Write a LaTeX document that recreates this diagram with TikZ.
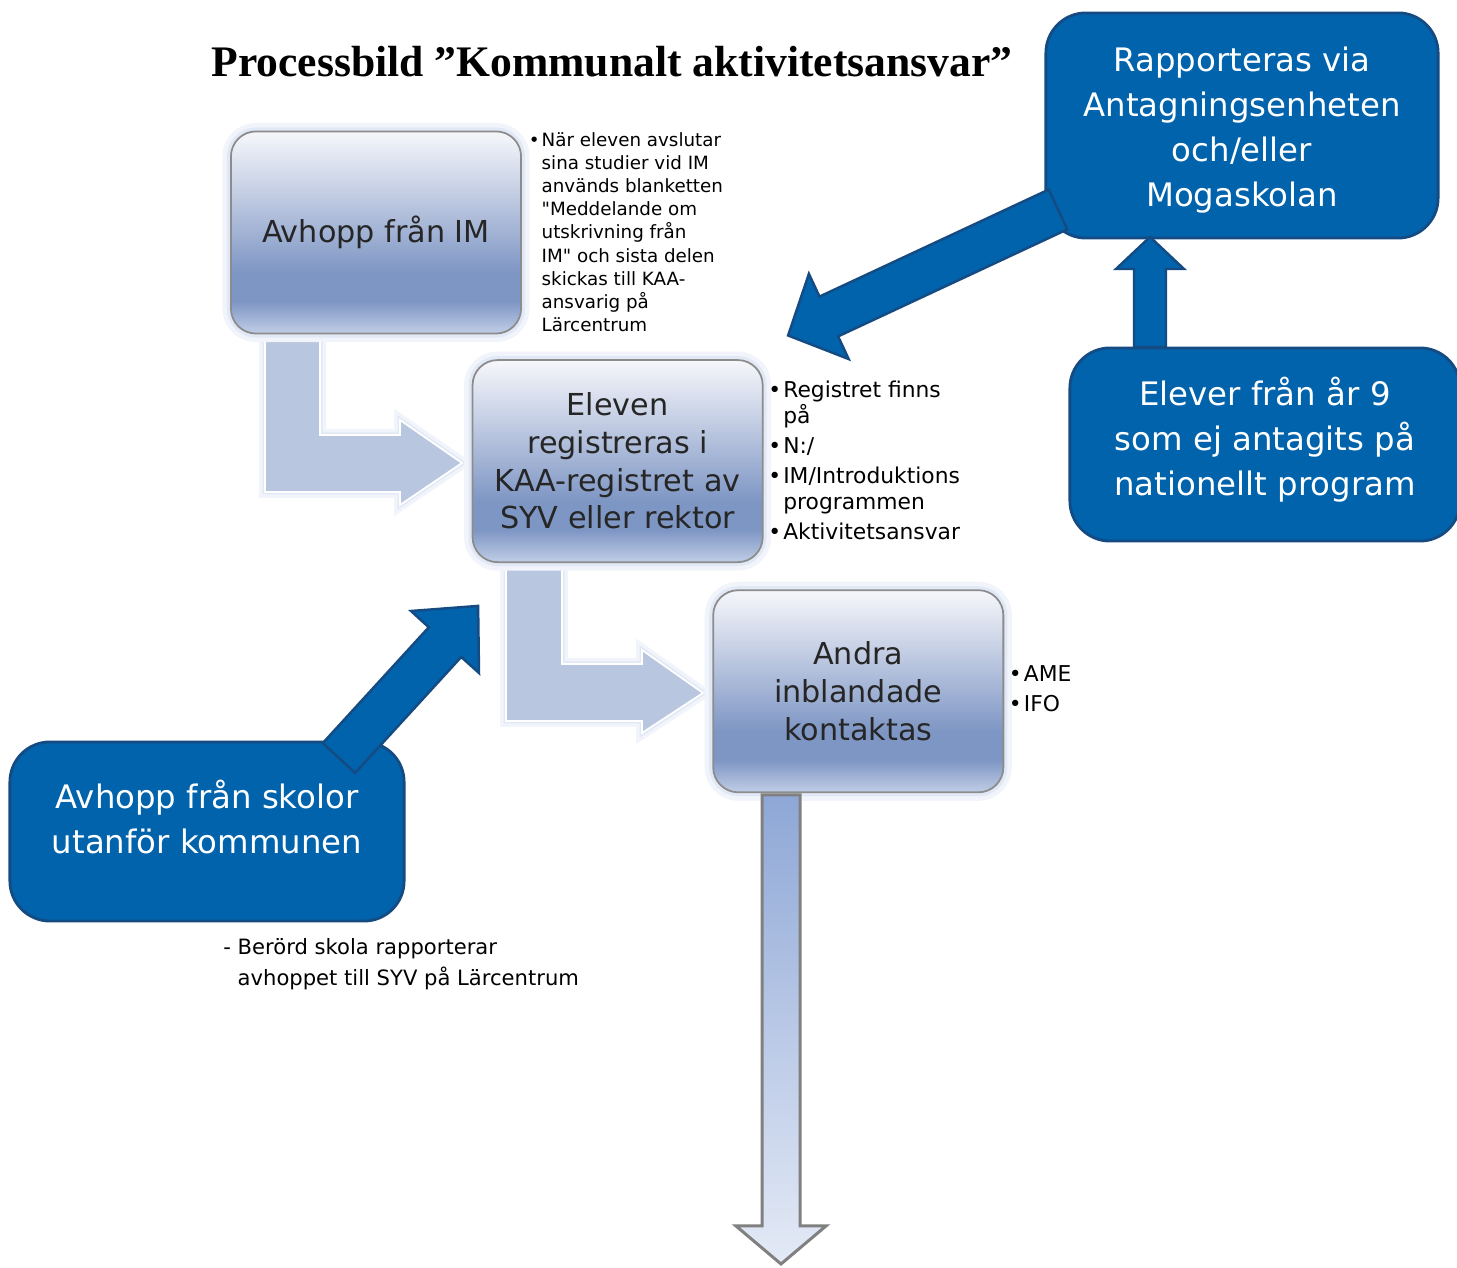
\documentclass[tikz,border=0pt]{standalone}
\usepackage{fontspec}
\setmainfont{DejaVu Sans}[Ligatures=TeXOff]
\newfontfamily\titlefont{Liberation Serif}
\usetikzlibrary{positioning}
\definecolor{cBlue}{RGB}{0,99,172}
\definecolor{cNavy}{RGB}{20,75,130}
\definecolor{cLight}{RGB}{185,198,224}
\definecolor{cGlow}{RGB}{226,233,246}
\definecolor{cHalo}{RGB}{241,244,251}
\definecolor{cText}{RGB}{38,38,38}
\definecolor{cShTop}{RGB}{246,247,251}
\definecolor{cShMid}{RGB}{196,206,228}
\definecolor{cShDark}{RGB}{126,150,196}
\definecolor{cShBot}{RGB}{192,205,230}
\pgfdeclareverticalshading{boxshade}{100bp}{color(0bp)=(cShBot); color(25bp)=(cShBot); color(33bp)=(cShDark); color(40bp)=(cShDark); color(60bp)=(cShMid); color(75bp)=(cShTop); color(100bp)=(cShTop)}
\newcommand{\boxfont}{\fontsize{8.6}{10.7}\selectfont}
\newcommand{\bluefont}{\fontsize{9.2}{12.8}\selectfont}
\newcommand{\notefont}{\fontsize{6.2}{7.4}\selectfont}
\newcommand{\smallnote}{\fontsize{5.2}{6.6}\selectfont}
\newcommand{\bul}{\llap{\textbullet\hspace{0.6pt}}}

\begin{document}
\begin{tikzpicture}[x=0.01cm, y=-0.01cm, node distance=2cm, on grid,
    lightbox/.style={rectangle, rounded corners=0.25cm, draw=black!45, line width=0.5pt, shading=boxshade,
        preaction={draw=cHalo, line width=0.17cm}, preaction={draw=cGlow, line width=0.08cm},
        minimum width=2.9cm, minimum height=2.02cm,
        align=center, font=\boxfont, text=cText, inner sep=0pt},
    bluebox/.style={rectangle, rounded corners=0.4cm, draw=cNavy, line width=0.8pt, fill=cBlue,
        text=white, align=center, font=\bluefont, inner sep=0pt},
    note/.style={anchor=north west, align=left, inner sep=0pt, font=\notefont},
    bluearrow/.style={fill=cBlue, draw=cNavy, line width=0.7pt, line join=miter},
    lightarrow/.style={fill=cLight, draw=white, line width=0.5pt,
        preaction={draw=cHalo, line width=0.12cm}, preaction={draw=cGlow, line width=0.05cm}},
    greyarrow/.style={top color={rgb,255:red,142;green,167;blue,214}, bottom color={rgb,255:red,228;green,234;blue,246},
        draw=black!50, line width=0.85pt, line join=miter}]
    \useasboundingbox (0,0) rectangle (1457,1268);

    \node[anchor=base, font=\titlefont\bfseries\fontsize{12.4}{14}\selectfont] (title) at (612,77)
        {Processbild ”Kommunalt aktivitetsansvar”};

    % light arrows between the steps
    \draw[lightarrow] (265,336) -- (265,492) -- (400,492) -- (400,505) -- (462,463) -- (400,420)
        -- (400,435) -- (320,435) -- (320,336) -- cycle;
    \draw[lightarrow] (506,564) -- (506,721) -- (642,721) -- (642,733) -- (703,693) -- (642,650)
        -- (642,664) -- (562,664) -- (562,564) -- cycle;

    \node[lightbox] (imexit) at (376,232.5) {Avhopp från IM};
    \node[lightbox, below right=2.285cm and 2.415cm of imexit] (register)
        {Eleven\\registreras i\\KAA-registret av\\SYV eller rektor};
    \node[lightbox, below right=2.3cm and 2.405cm of register] (others)
        {Andra\\inblandade\\kontaktas};

    \node[bluebox, minimum width=3.92cm, minimum height=2.25cm] (intake) at (1242,125.5)
        {\rule{0pt}{9.5pt}Rapporteras via\\Antagningsenheten\\och/eller\\Mogaskolan};
    \node[bluebox, minimum width=3.9cm, minimum height=1.93cm] (year9) at (1265,444.5)
        {Elever från år 9\\som ej antagits på\\nationellt program\rule[-4.5pt]{0pt}{0pt}};
    \node[bluebox, minimum width=3.94cm, minimum height=1.79cm] (outside) at (207,831.5)
        {Avhopp från skolor\\utanför kommunen\rule[-0.3cm]{0pt}{0pt}};

    \node[note, font=\smallnote] (imnote) at ([xshift=0.19cm, yshift=-0.01cm]imexit.north east)
        {\bul När eleven avslutar\\sina studier vid IM\\används blanketten\\"Meddelande om\\utskrivning från\\IM" och sista delen\\skickas till KAA-\\ansvarig på\\Lärcentrum};
    \node[note] (regnote) at ([xshift=0.19cm, yshift=-0.21cm]register.north east)
        {\bul Registret finns\\på\\[1.1pt]\bul N:/\\[1.1pt]\bul IM/Introduktions\\programmen\\[1.1pt]\bul Aktivitetsansvar};
    \node[note] (othnote) at ([xshift=0.19cm, yshift=-0.76cm]others.north east)
        {\bul AME\\[1.1pt]\bul IFO};
    \node[note, font=\fontsize{6}{8.8}\selectfont] (outnote) at (237,938)
        {\llap{- }Berörd skola rapporterar\\avhoppet till SYV på Lärcentrum};

    % dark blue arrows
    \draw[bluearrow] (1048.7,189.6) -- (819.5,296.6) -- (808.9,273.9) -- (788.1,335.5)
        -- (848.7,359.1) -- (838.1,336.4) -- (1067.3,229.4) -- cycle;
    \draw[bluearrow] (1134,347) -- (1134,269) -- (1116,269) -- (1150,237) -- (1184,269)
        -- (1166,269) -- (1166,347) -- cycle;
    \draw[bluearrow] (322.8,743.1) -- (355.2,772.9) -- (461.2,657) -- (479,673) -- (478.1,605.9)
        -- (411,611) -- (428.8,627.3) -- cycle;

    % way out from the last step
    \draw[greyarrow] (762,795) -- (762,1226) -- (736,1226) -- (781,1264) -- (826,1226)
        -- (800,1226) -- (800,795) -- cycle;
\end{tikzpicture}
\end{document}
